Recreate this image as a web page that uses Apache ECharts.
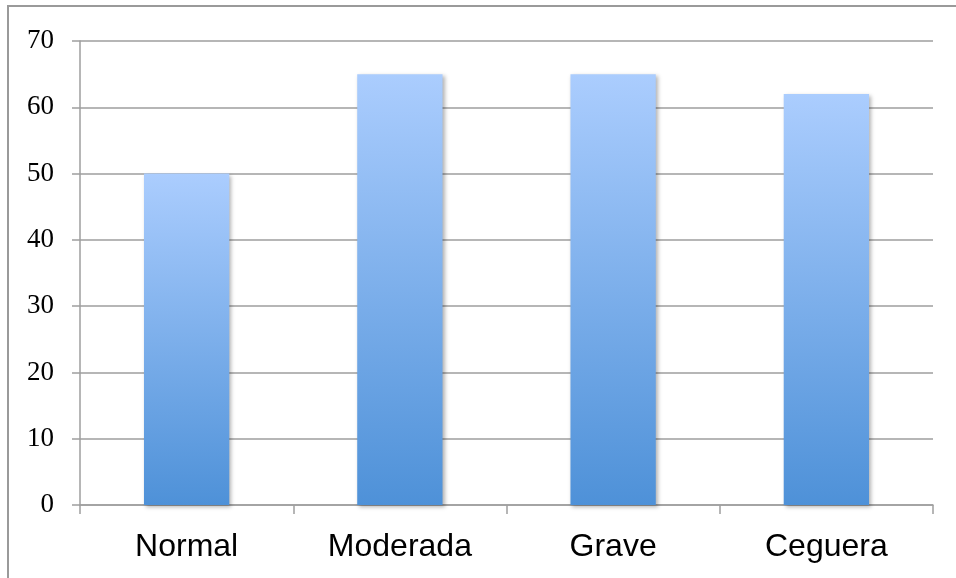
<!DOCTYPE html>
<html>
<head>
<meta charset="utf-8">
<script src="https://cdn.jsdelivr.net/npm/echarts@6/dist/echarts.min.js"></script>
<style>html,body{margin:0;padding:0;background:#fff;}#c{width:956px;height:578px;}</style>
</head>
<body>
<div id="c"></div>
<script>
const categories = ['Normal', 'Moderada', 'Grave', 'Ceguera'];
const values = [50, 65, 65, 62];
const yTicks = [0, 10, 20, 30, 40, 50, 60, 70];

const chart = echarts.init(document.getElementById('c'));
chart.setOption({
  animation: false,
  backgroundColor: '#fff',
  graphic: [{
    type: 'rect',
    shape: { x: 8, y: 6, width: 960, height: 600 },
    style: { fill: 'none', stroke: '#9a9a9a', lineWidth: 2 },
    silent: true
  }],
  grid: { left: 80, right: 23, top: 41, bottom: 73, containLabel: false },
  xAxis: {
    type: 'category',
    data: categories,
    axisLine: { lineStyle: { color: '#9e9e9e', width: 1.5 } },
    axisTick: { show: true, length: 9, alignWithLabel: false, lineStyle: { color: '#9e9e9e', width: 1.5 } },
    axisLabel: { fontFamily: 'Liberation Sans, Arial, sans-serif', fontSize: 32, color: '#000', margin: 26 }
  },
  yAxis: {
    type: 'value',
    min: yTicks[0],
    max: yTicks[yTicks.length - 1],
    interval: 10,
    axisLine: { show: true, lineStyle: { color: '#9e9e9e', width: 1.5 } },
    axisTick: { show: true, inside: false, length: 8, lineStyle: { color: '#9e9e9e', width: 1.5 } },
    splitLine: { show: true, lineStyle: { color: '#9e9e9e', width: 1.5 } },
    axisLabel: { fontFamily: 'Liberation Serif, DejaVu Serif, serif', fontSize: 27, color: '#000', margin: 26 }
  },
  series: [{
    type: 'bar',
    data: values,
    barWidth: '40%',
    itemStyle: {
      color: new echarts.graphic.LinearGradient(0, 0, 0, 1, [
        { offset: 0, color: '#abcdfe' },
        { offset: 1, color: '#4e91d8' }
      ]),
      shadowColor: 'rgba(0,0,0,0.3)',
      shadowBlur: 4,
      shadowOffsetX: 2,
      shadowOffsetY: 2
    }
  }]
});
</script>
</body>
</html>
